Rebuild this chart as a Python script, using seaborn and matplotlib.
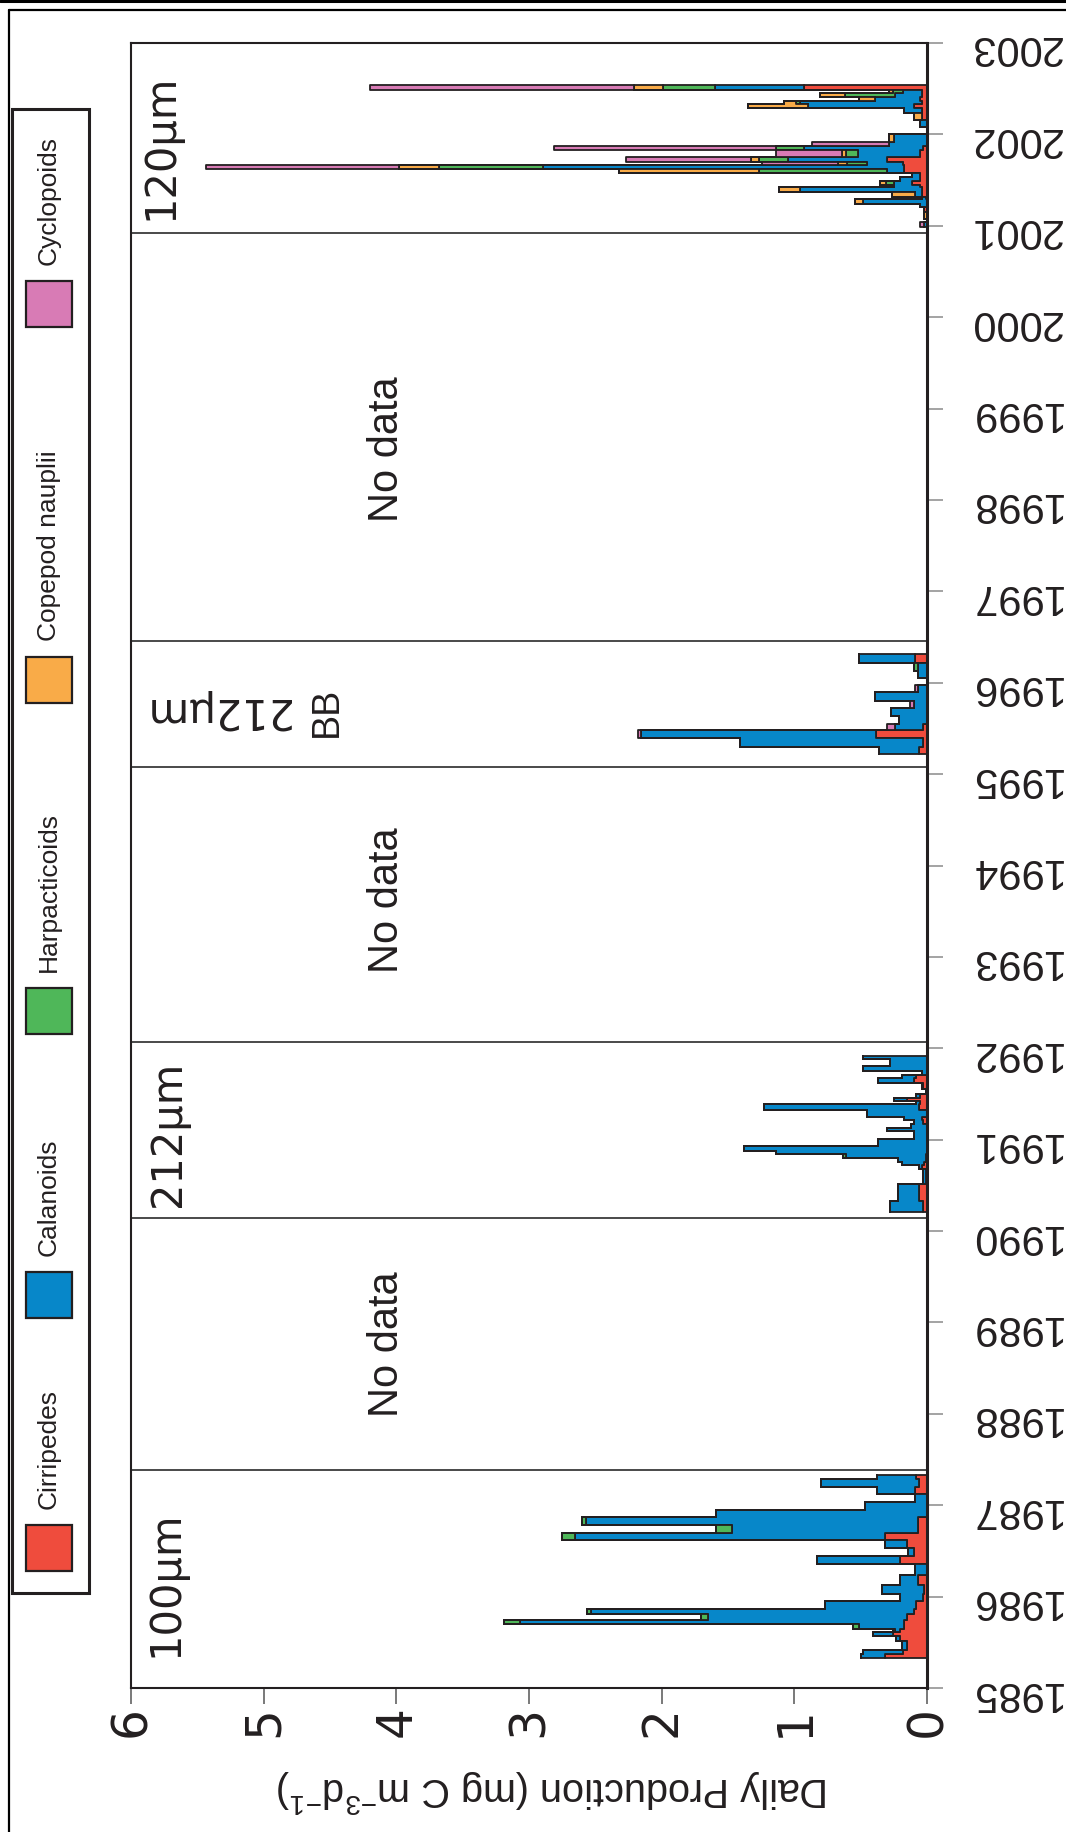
import numpy as np
import pandas as pd
import matplotlib
matplotlib.use("Agg")
import matplotlib.pyplot as plt
from matplotlib.patches import Rectangle
from matplotlib.lines import Line2D
import seaborn as sns

# ---------------------------------------------------------------- data
taxa = ["Cirripedes", "Calanoids", "Harpacticoids", "Copepod nauplii", "Cyclopoids"]
taxa_colors = ["#ef4c3d", "#0787c9", "#4fb759", "#f9ab48", "#d87bb5"]

# 100 um net, 1985-1987 (step edges in decimal years, production per step)
net100_edges = [1985.33, 1985.37, 1985.42, 1985.51, 1985.57, 1985.61, 1985.65,
                1985.695, 1985.74, 1985.815, 1985.86, 1985.95, 1986.03, 1986.13,
                1986.24, 1986.36, 1986.44, 1986.53, 1986.62, 1986.70, 1986.78,
                1986.87, 1986.95, 1987.04, 1987.12, 1987.20, 1987.29, 1987.33]
net100_cirripedes = [0.32, 0.18, 0.15, 0.20, 0.26, 0.20, 0.17, 0.17, 0.15, 0.10,
                     0.08, 0.03, 0.02, 0.07, 0.00, 0.20, 0.10, 0.15, 0.32, 0.07,
                     0.07, 0.00, 0.00, 0.00, 0.09, 0.06, 0.08]
net100_calanoids = [0.18, 0.30, 0.04, 0.03, 0.15, 0.04, 0.34, 2.90, 1.50, 2.43,
                    0.69, 0.17, 0.32, 0.13, 0.09, 0.63, 0.04, 0.17, 2.33, 1.40,
                    2.50, 1.59, 0.47, 0.09, 0.29, 0.74, 0.30]
net100_harpacticoids = [0, 0, 0, 0, 0, 0.02, 0.05, 0.12, 0.05, 0.03,
                        0, 0, 0, 0, 0, 0, 0, 0, 0.10, 0.12,
                        0.03, 0, 0, 0, 0, 0, 0]
net100_nauplii = [0] * 27
net100_cyclopoids = [0] * 27

# 212 um net, 1990-1991
net212_edges = [1990.21, 1990.33, 1990.51, 1990.68, 1990.72, 1990.76, 1990.80,
                1990.84, 1990.88, 1990.93, 1991.01, 1991.09, 1991.13, 1991.17,
                1991.21, 1991.25, 1991.33, 1991.39, 1991.42, 1991.46, 1991.50,
                1991.55, 1991.62, 1991.67, 1991.71, 1991.75, 1991.81, 1991.88,
                1991.92]
net212_cirripedes = [0.03, 0.06, 0.01, 0.04, 0.02, 0.01, 0.01, 0.00, 0.00, 0.00,
                     0.00, 0.00, 0.00, 0.03, 0.04, 0.00, 0.06, 0.05, 0.15, 0.05,
                     0.00, 0.03, 0.10, 0.08, 0.00, 0.00, 0.00, 0.00]
net212_calanoids = [0.25, 0.16, 0.02, 0.02, 0.17, 0.21, 0.60, 1.14, 1.38, 0.37,
                    0.10, 0.30, 0.12, 0.07, 0.13, 0.45, 1.17, 0.03, 0.10, 0.03,
                    0.01, 0.01, 0.27, 0.11, 0.04, 0.48, 0.28, 0.48]
net212_harpacticoids = [0, 0, 0, 0, 0, 0, 0.025, 0, 0, 0,
                        0, 0, 0, 0, 0, 0, 0, 0, 0, 0,
                        0, 0, 0, 0, 0, 0, 0, 0]
net212_nauplii = [0] * 28
net212_cyclopoids = [0] * 28

# 212 um net, Bedford Basin, 1995-1996
bb212_edges = [1995.22, 1995.30, 1995.39, 1995.48, 1995.55, 1995.64, 1995.72,
               1995.80, 1995.90, 1995.97, 1996.05, 1996.13, 1996.22, 1996.31]
bb212_cirripedes = [0.06, 0.03, 0.385, 0.03, 0, 0, 0, 0, 0, 0, 0, 0, 0.09]
bb212_calanoids = [0.30, 1.38, 1.77, 0.21, 0.21, 0.27, 0.10, 0.39, 0.065, 0,
                   0.065, 0.07, 0.425]
bb212_harpacticoids = [0, 0, 0, 0, 0, 0, 0, 0, 0, 0, 0, 0.025, 0]
bb212_nauplii = [0] * 13
bb212_cyclopoids = [0, 0, 0.025, 0.06, 0, 0, 0.025, 0, 0.025, 0, 0, 0, 0]

# 120 um net, 2001-2002
net120_edges = [2000.99, 2001.038, 2001.071, 2001.155, 2001.202, 2001.239,
                2001.290, 2001.319, 2001.366, 2001.421, 2001.446, 2001.494,
                2001.530, 2001.574, 2001.621, 2001.665, 2001.702, 2001.756,
                2001.829, 2001.873, 2001.920, 2002.004, 2002.084, 2002.158,
                2002.230, 2002.285, 2002.333, 2002.369, 2002.410, 2002.456,
                2002.490, 2002.540]
net120_cirripedes = [0, 0, 0, 0.02, 0, 0, 0.01, 0.04, 0.04, 0.05, 0.11, 0.05,
                     0.05, 0.175, 0.175, 0.18, 0.30, 0.05, 0.03, 0, 0, 0, 0,
                     0.04, 0.04, 0.10, 0.04, 0.05, 0.04, 0.04, 0.93]
net120_calanoids = [0.025, 0, 0, 0, 0.05, 0.48, 0.03, 0.05, 0.92, 0.20, 0.14,
                    0.15, 0.06, 0.13, 2.72, 0.27, 0.75, 0.47, 0.90, 0.29, 0.25,
                    0, 0.05, 0, 0.13, 0.80, 0.92, 0.34, 0.20, 0.14, 0.667]
net120_harpacticoids = [0, 0, 0, 0, 0, 0, 0, 0, 0, 0, 0.06, 0, 0, 0.96, 0.787,
                        0.15, 0.22, 0.09, 0.21, 0, 0, 0, 0, 0, 0, 0, 0.03, 0,
                        0.38, 0.08, 0.395]
net120_nauplii = [0, 0, 0.025, 0, 0, 0.065, 0, 0.175, 0.155, 0, 0.045, 0, 0,
                  1.06, 0.30, 0.07, 0.06, 0.03, 0, 0, 0.04, 0, 0, 0.06, 0,
                  0.45, 0.09, 0.12, 0.19, 0.03, 0.216]
net120_cyclopoids = [0.03, 0, 0, 0, 0, 0, 0, 0, 0, 0, 0, 0, 0, 0, 1.45, 0.57,
                     0.94, 0.50, 1.67, 0.58, 0, 0, 0, 0, 0, 0, 0, 0, 0, 0, 1.99]

year_ticks = list(range(1985, 2004))
production_ticks = [0, 1, 2, 3, 4, 5, 6]
period_breaks = [1987.39, 1990.14, 1992.07, 1995.08, 1996.46, 2000.92]

# ---------------------------------------------------------------- style
sns.set_theme(style="ticks")
plt.rcParams["font.family"] = ["Liberation Sans", "DejaVu Sans"]
plt.rcParams["mathtext.fontset"] = "custom"
plt.rcParams["mathtext.rm"] = "Liberation Sans"
plt.rcParams["mathtext.default"] = "regular"
ink = "#231f20"

W, H = 1066, 1832
fig = plt.figure(figsize=(W / 100, H / 100), dpi=100)
ax = fig.add_axes([131 / W, (H - 1688) / H, 796 / W, 1645 / H])

stack_order = taxa[::-1]          # first hue level ends on top of the stack
palette = dict(zip(taxa, taxa_colors))


def period_frame(edges, *series):
    edges = np.asarray(edges)
    mids = (edges[:-1] + edges[1:]) / 2
    rows = []
    for name, vals in zip(taxa, series):
        for m, v in zip(mids, vals):
            rows.append({"year": m, "taxon": name, "production": v})
    return pd.DataFrame(rows)


periods = [
    (net100_edges, net100_cirripedes, net100_calanoids, net100_harpacticoids,
     net100_nauplii, net100_cyclopoids),
    (net212_edges, net212_cirripedes, net212_calanoids, net212_harpacticoids,
     net212_nauplii, net212_cyclopoids),
    (bb212_edges, bb212_cirripedes, bb212_calanoids, bb212_harpacticoids,
     bb212_nauplii, bb212_cyclopoids),
    (net120_edges, net120_cirripedes, net120_calanoids, net120_harpacticoids,
     net120_nauplii, net120_cyclopoids),
]

for edges, *series in periods:
    df = period_frame(edges, *series)
    sns.histplot(data=df, y="year", weights="production", hue="taxon",
                 hue_order=stack_order, palette=palette, multiple="stack",
                 element="step", bins=edges, alpha=1, edgecolor=ink,
                 linewidth=1.3, legend=False, ax=ax)

# sampling-period separators
for yb in period_breaks:
    ax.axhline(yb, color="#3a3a3a", lw=1.3, zorder=0.5)

ax.set_xlim(6, 0)
ax.set_ylim(1985, 2003)
ax.set_xlabel("")
ax.set_ylabel("")

for side in ["left", "top", "bottom"]:
    ax.spines[side].set_color(ink)
    ax.spines[side].set_linewidth(1.5)
ax.spines["right"].set_color(ink)
ax.spines["right"].set_linewidth(2.2)

ax.set_xticks(production_ticks)
ax.set_xticklabels([str(t) for t in production_ticks],
                   fontfamily="DejaVu Sans", fontsize=35)
ax.tick_params(axis="x", direction="out", length=11.5, width=1.1,
               color="#555555", pad=1.5, labelrotation=90, bottom=True)

ax.yaxis.tick_right()
ax.set_yticks(year_ticks)
ax.set_yticklabels([str(y) for y in year_ticks], fontsize=30)
ax.tick_params(axis="y", direction="out", length=11.5, width=1.1,
               color="#8a8a8a", pad=18, labelrotation=180, right=True, left=False)
for lab in ax.get_yticklabels() + ax.get_xticklabels():
    lab.set_color(ink)

# panel annotations
ax.text(5.78, 2001.86, "120\u03bcm", rotation=90, ha="center", va="center",
        fontfamily="DejaVu Sans", fontsize=30, color=ink)
ax.text(5.72, 1991.06, "212\u03bcm", rotation=90, ha="center", va="center",
        fontfamily="DejaVu Sans", fontsize=30, color=ink)
ax.text(5.74, 1986.14, "100\u03bcm", rotation=90, ha="center", va="center",
        fontfamily="DejaVu Sans", fontsize=30, color=ink)
ax.text(5.36, 1995.70, "212\u03bcm", rotation=180, ha="center", va="center",
        fontfamily="DejaVu Sans", fontsize=30, color=ink)
ax.text(4.52, 1995.68, "BB", rotation=90, ha="center", va="center",
        fontsize=27, color=ink)
for yc in [1998.55, 1993.62, 1988.76]:
    ax.text(4.07, yc, "No data", rotation=90, ha="center", va="center",
            fontsize=30, color=ink)

# axis title (the page is turned, so the text reads upside down)
fig.text(553 / W, 1 - 1791 / H, "Daily Production (mg C m$^{-3}$d$^{-1}$)",
         rotation=180, ha="center", va="center", fontsize=28.5, color=ink)


# legend box on the left edge
def fx(px):
    return px / W


def fy(py):
    return 1 - py / H


fig.add_artist(Rectangle((fx(12), fy(1593)), fx(89) - fx(12), fy(109) - fy(1593),
                         transform=fig.transFigure, fill=False, edgecolor=ink,
                         lw=2.2))
legend_patch_top = {"Cyclopoids": 281, "Copepod nauplii": 657,
                    "Harpacticoids": 988, "Calanoids": 1272, "Cirripedes": 1525}
for name, color in zip(taxa, taxa_colors):
    top = legend_patch_top[name]
    fig.add_artist(Rectangle((fx(26), fy(top + 46)), fx(72) - fx(26),
                             fy(top) - fy(top + 46), transform=fig.transFigure,
                             facecolor=color, edgecolor=ink, lw=1.6))
    fig.text(fx(49), fy(top - 16), name, rotation=90, rotation_mode="anchor",
             ha="left", va="center", fontsize=19, color=ink)

# page frame
fig.add_artist(Line2D([0, 1], [fy(1), fy(1)], transform=fig.transFigure,
                      color="black", lw=2.2))
fig.add_artist(Line2D([fx(9), 1], [fy(10), fy(10)], transform=fig.transFigure,
                      color="black", lw=1.6))
fig.add_artist(Line2D([fx(9), fx(9)], [fy(10), 0], transform=fig.transFigure,
                      color="black", lw=1.6))

fig.savefig("out.png", dpi=100)
